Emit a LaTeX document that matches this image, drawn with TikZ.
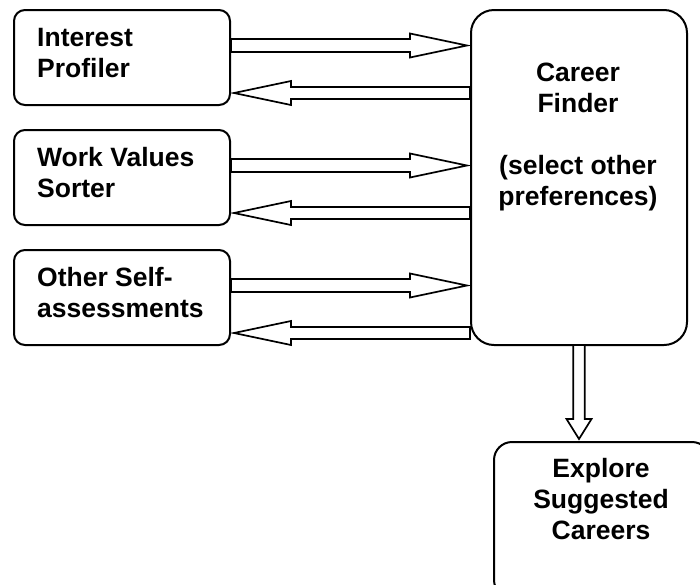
\documentclass[tikz,border=0pt]{standalone}
\usepackage{fontspec}
\setmainfont{Liberation Sans}
\usetikzlibrary{calc}
\tikzset{
  box/.style={draw, line width=2pt, rounded corners=11pt, anchor=north west, inner sep=0pt, minimum width=216pt},
  lbl/.style={font=\bfseries\fontsize{26.5}{31}\selectfont, inner sep=0pt},
  barrow/.style={draw, line width=1.7pt, fill=white, line join=miter},
}
% right-pointing block arrow: from box #1 (east side) to box #2 (west side) at height #3
\newcommand\RBlock[3]{%
  \draw[barrow] ($(#1.east |- 0,#3)+(0,-6.5)$) -- ($(#2.west |- 0,#3)+(-60,-6.5)$)
    -- ($(#2.west |- 0,#3)+(-60,-12)$) -- ($(#2.west |- 0,#3)+(-3,0)$)
    -- ($(#2.west |- 0,#3)+(-60,12)$) -- ($(#2.west |- 0,#3)+(-60,6.5)$)
    -- ($(#1.east |- 0,#3)+(0,6.5)$) -- cycle;}
% left-pointing block arrow: from box #1 (west side) to box #2 (east side) at height #3
\newcommand\LBlock[3]{%
  \draw[barrow] ($(#1.west |- 0,#3)+(0,-6)$) -- ($(#2.east |- 0,#3)+(60,-6)$)
    -- ($(#2.east |- 0,#3)+(60,-12)$) -- ($(#2.east |- 0,#3)+(3,0)$)
    -- ($(#2.east |- 0,#3)+(60,12)$) -- ($(#2.east |- 0,#3)+(60,6)$)
    -- ($(#1.west |- 0,#3)+(0,6)$) -- cycle;}
\begin{document}
\begin{tikzpicture}[x=1pt,y=-1pt]
\useasboundingbox (0,0) rectangle (700,584);
\node[box, minimum height=95pt] (b1) at (13,9) {};
\node[box, minimum height=95pt] (b2) at (13,129) {};
\node[box, minimum height=95pt] (b3) at (13,249) {};
\node[box, minimum height=335pt, rounded corners=23pt] (cf) at (470,9) {};
\node[box, minimum height=156pt, rounded corners=18pt] (ex) at (493,441) {};

% base anchor = baseline of the last line
\node[lbl, align=left, anchor=base west] (t1) at (37,77) {Interest\\Profiler};
\node[lbl, align=left, anchor=base west] (t2) at (37,197) {Work Values\\Sorter};
\node[lbl, align=left, anchor=base west] (t3) at (37,317) {Other Self-\\assessments};
\node[lbl, align=center, anchor=base] (tc) at (578,205) {Career\\Finder\\[31pt](select other\\preferences)};
\node[lbl, align=center, anchor=base] (te) at (601,539) {Explore\\Suggested\\Careers};

\RBlock{b1}{cf}{45.5}
\LBlock{cf}{b1}{93}
\RBlock{b2}{cf}{165.5}
\LBlock{cf}{b2}{213}
\RBlock{b3}{cf}{285.5}
\LBlock{cf}{b3}{333}

\draw[barrow] ($(cf.south)+(-5.8,0)$) -- ($(cf.south)+(-5.8,73)$) -- ($(cf.south)+(-12.5,73)$)
  -- ($(ex.north -| cf.south)+(0,-2)$) -- ($(cf.south)+(12.5,73)$) -- ($(cf.south)+(5.8,73)$)
  -- ($(cf.south)+(5.8,0)$);
\end{tikzpicture}
\end{document}
